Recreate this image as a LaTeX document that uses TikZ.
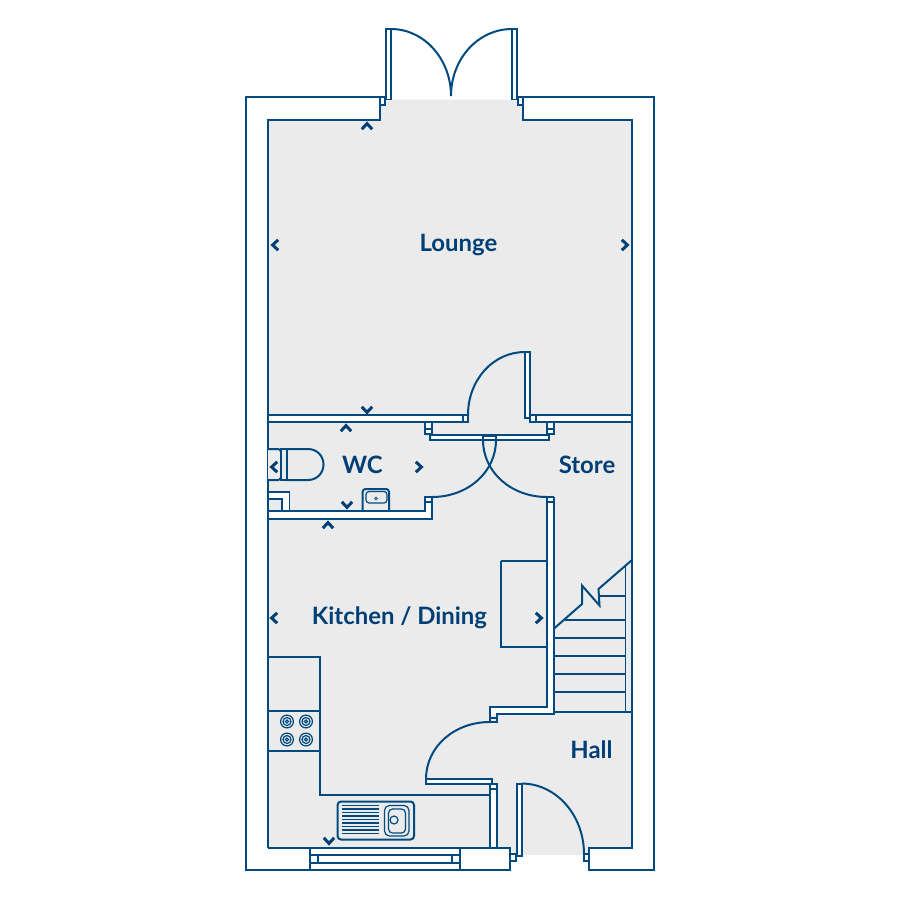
\documentclass[tikz,border=0pt]{standalone}
\usepackage{fontspec}
\setmainfont{Lato}
\definecolor{ink}{HTML}{004A80}
\definecolor{txt}{HTML}{003F75}
\definecolor{floor}{HTML}{EBEBEB}
\newcommand{\chev}[3]{\draw[chevline,shift={(#1,#2)},rotate=#3] (-5.2,3.2)--(0,-2.4)--(5.2,3.2);}
\newcommand{\burner}[2]{\draw[thin line] (#1,#2) circle[radius=6.4] (#1,#2) circle[radius=4] (#1,#2) circle[radius=1.6];}
\tikzset{
  wall/.style={draw=ink,line width=2pt,line join=miter,fill=white},
  line2/.style={draw=ink,line width=2pt,line join=miter},
  thin line/.style={draw=ink,line width=1.2pt},
  chevline/.style={draw=txt,line width=3pt,line cap=butt,line join=miter},
  room/.style={text=txt,font=\fontsize{24}{28}\selectfont\bfseries,inner sep=0pt}
}
\begin{document}
\begin{tikzpicture}[x=1bp,y=-1bp]
\useasboundingbox (0,0) rectangle (900,900);
% floor
\fill[floor] (268,120)--(379.5,120)--(379.5,105)--(391,99.5)--(512,99.5)--(523,105)--(523,120)--(632,120)--(632,848)--(589,848)--(589,855)--(515,855)--(510,848)--(268,848)--cycle;
% outer shell
\draw[line2] (385,97)--(246,97)--(246,870)--(510,870);
\draw[line2] (268,848)--(268,120)--(379.5,120)--(379.5,97);
\draw[line2] (523,97)--(654,97)--(654,870)--(589,870)--(589,848)--(632,848)--(632,120)--(523,120)--(523,97);
\draw[line2] (268,848)--(510,848);
% garden doors
\draw[wall] (379.5,97) rectangle (385,105);
\draw[wall] (518,97) rectangle (523,105);
\draw[wall] (386,29) rectangle (391,99.5);
\draw[wall] (512,29) rectangle (516.5,99.5);
\draw[line2] (391,29) .. controls (424,29) and (451,59) .. (451,96);
\draw[line2] (512,29) .. controls (478,29) and (451,59) .. (451,96);
% lounge partition
\draw[wall] (268,415)--(463,415)--(463,422)--(268,422)--cycle;
\draw[wall] (536,415)--(632,415)--(632,422)--(536,422)--cycle;
\draw[wall] (463,415) rectangle (468,422);
\draw[wall] (530,415) rectangle (536,422);
\draw[wall] (525,352) rectangle (530,418);
\draw[line2] (525,352) .. controls (493,352) and (468,380) .. (468,415);
\draw[wall] (425,422) rectangle (432,434);
\draw[line2] (425,429)--(432,429);
\draw[wall] (547,422) rectangle (554,434);
\draw[line2] (547,429)--(554,429);
\draw[wall] (430,435) rectangle (549,440);
\draw[wall] (483,436) rectangle (496,440);
\draw[line2] (496,440) .. controls (496,472) and (468,497) .. (432,497);
\draw[line2] (483,440) .. controls (483,472) and (511,497) .. (547,497);
% WC wall
\draw[wall] (268,492)--(289.5,492)--(289.5,511)--(268,511)--cycle;
\draw[wall,fill=floor] (268,499)--(282,499)--(282,511)--(268,511)--cycle;
\draw[wall] (268,511)--(425,511)--(425,497)--(432,497)--(432,519)--(268,519)--cycle;
\draw[line2] (425,502)--(432,502);
% stairs wall and hall
\fill[white] (547,497) rectangle (553.5,714);
\fill[white] (490,707) rectangle (553.5,714);
\draw[line2] (547,497)--(553.5,497);
\draw[line2] (553.5,497)--(553.5,714)--(497,714)--(497,722)--(490,722)--(490,707)--(547,707)--(547,497);
\draw[line2] (547,502)--(553.5,502);
\draw[line2] (490,717.5)--(497,717.5);
\draw[line2] (490,722) .. controls (454,722) and (426,747) .. (426,779);
\draw[wall] (426,779) rectangle (492,784);
% hall to kitchen wall
\draw[wall] (490,784) rectangle (497,848);
\draw[line2] (490,789)--(497,789);
% kitchen fittings
\draw[line2] (268,657)--(320,657)--(320,794.5)--(490,794.5);
\draw[line2] (268,711)--(320,711);
\draw[line2] (268,751)--(320,751);
\burner{287}{721.5}\burner{306}{721.5}\burner{287}{739.5}\burner{306}{739.5}
\draw[line2] (500.5,561)--(500.5,646.5)--(547,646.5);
\draw[line2] (500.5,561)--(547,561);
\draw[line2,rounded corners=3.5] (337.5,801.5) rectangle (414,839.5);
\foreach \yy in {805.5,809,812.5,816,819.5,823,826.5,830,833.5}{\draw[thin line] (342,\yy)--(378.5,\yy);}
\draw[thin line,rounded corners=5] (384.5,805.5) rectangle (409,836);
\draw[thin line,rounded corners=4] (388.5,809) rectangle (405.5,833);
\draw[thin line] (394,820) circle[radius=4];
% stairs
\draw[line2] (553.5,712)--(632,712);
\draw[thin line] (625.5,565)--(625.5,712);
\draw[line2] (553.5,692)--(625.5,692);
\draw[line2] (553.5,674)--(625.5,674);
\draw[line2] (553.5,656)--(625.5,656);
\draw[line2] (553.5,638)--(625.5,638);
\draw[line2] (565,619.5)--(625.5,619.5);
\draw[line2] (599.5,595.7)--(625.5,595.7);
\draw[line2] (553.5,629)--(582,604)--(582,585.5)--(599.5,605.5)--(598.5,589)--(632,560);
% toilet and basin
\draw[line2,rounded corners=3,fill=floor] (268,449)--(281,449)--(281,480)--(268,480);
\draw[line2] (287,449)--(281,449)--(281,480)--(287,480);
\draw[line2] (287,449)--(287,480);
\draw[line2] (287,449)--(308,449) .. controls (317,449) and (323.5,456) .. (323.5,464.5) .. controls (323.5,473) and (317,480) .. (308,480)--(287,480);
\draw[line2,rounded corners=3] (362.5,511)--(362.5,489)--(389,489)--(389,511);
\draw[thin line,rounded corners=3] (366,491.5) rectangle (387,503);
\draw[draw=ink,line width=0.7pt] (376,498.5) circle[radius=1.4];
% window
\draw[wall] (310,848) rectangle (460,870);
\draw[line2] (310,855)--(460,855);
\draw[line2] (310,863)--(460,863);
\draw[line2] (317.5,855)--(317.5,863);
\draw[line2] (451.5,855)--(451.5,863);
% front door
\draw[wall] (460,848) rectangle (510,870);
\draw[wall] (510,854) rectangle (515.5,861);
\draw[wall] (517,783.5) rectangle (521.5,856);
\draw[wall] (584,854) rectangle (589,861);
\draw[line2] (521.5,783.5) .. controls (556,783.5) and (584,815) .. (584,854);
% chevrons
\chev{367}{126}{0}
\chev{275}{245}{90}
\chev{625}{245}{-90}
\chev{367}{410}{180}
\chev{346}{428}{0}
\chev{274}{467}{90}
\chev{419}{467}{-90}
\chev{347}{505}{180}
\chev{328}{525}{0}
\chev{274}{618}{90}
\chev{539}{618}{-90}
\chev{329}{841}{180}
% labels
\node[room] (lounge) at (458.5,245) {Lounge};
\node[room] (wc) at (362.5,464.5) {WC};
\node[room] (store) at (587,465) {Store};
\node[room] (kitchen) at (399.5,617.5) {Kitchen / Dining};
\node[room] (hall) at (591.5,750) {Hall};
\end{tikzpicture}
\end{document}
